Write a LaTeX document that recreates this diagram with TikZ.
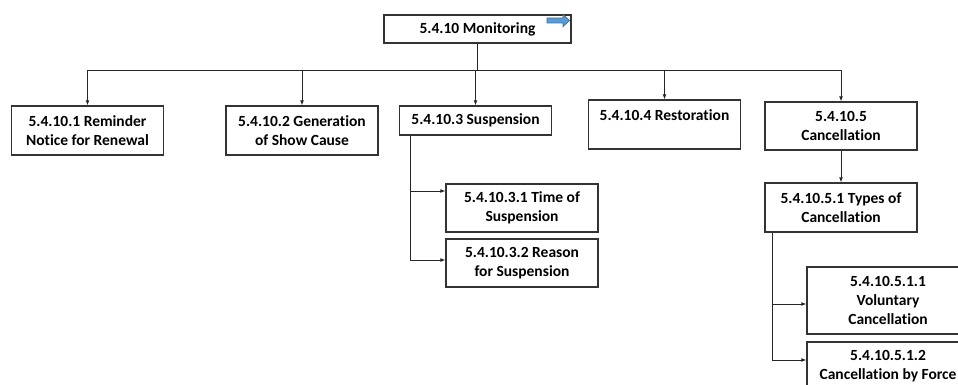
\documentclass[tikz,border=0pt]{standalone}
\usepackage{fontspec}
\setmainfont[Ligatures=NoCommon]{Carlito}
\usetikzlibrary{arrows.meta}

\definecolor{flagfill}{HTML}{5B9BD5}
\definecolor{flagline}{HTML}{41719C}

\tikzset{
	item/.style={draw=black!80, line width=1.3pt, fill=white, align=center, inner sep=0pt,
		minimum width=152pt, minimum height=49pt, font=\bfseries\fontsize{15.5}{19}\selectfont},
	link/.style={draw=black!85, line width=0.9pt, -{Latex[length=5pt,width=4pt]}},
	bar/.style={draw=black!85, line width=0.9pt},
	flag/.style={fill=flagfill, draw=flagline, line width=0.8pt},
}

\begin{document}
\begin{tikzpicture}[x=1pt,y=-1pt]
	\useasboundingbox (0,0) rectangle (958,385);
	\clip (0,0) rectangle (958,385);

	% Top level
	\node[item, minimum width=187pt, minimum height=28pt] (mon) at (477.5,29) {5.4.10 Monitoring};
	\draw[flag] (547,18) -- (563,18) -- (563,14.5) -- (569.5,20.5) -- (563,26.5) -- (563,23) -- (547,23) -- cycle;

	% Second level
	\node[item] (rem) at (87.5,130.5) {5.4.10.1 Reminder\\Notice for Renewal};
	\node[item] (gen) at (302,130.5) {5.4.10.2 Generation\\of Show Cause};
	\node[item, minimum height=29pt] (sus) at (475.5,120.5) {5.4.10.3 Suspension};
	\node[item] (res) at (664.5,124.5) {5.4.10.4 Restoration\\~};
	\node[item, minimum height=48pt] (can) at (841,126) {5.4.10.5\\Cancellation};

	% Suspension
	\node[item, minimum height=48pt] (sustime) at (522,208) {5.4.10.3.1 Time of\\Suspension};
	\node[item, minimum height=48pt] (susreason) at (522,263) {5.4.10.3.2 Reason\\for Suspension};

	% Cancellation
	\node[item] (cantypes) at (841,207.5) {5.4.10.5.1 Types of\\Cancellation};
	\node[item, minimum width=162pt, minimum height=67pt] (canvol) at (888,300.5) {5.4.10.5.1.1\\Voluntary\\Cancellation};
	\node[item, minimum width=162pt, minimum height=48pt] (canforce) at (888,366) {5.4.10.5.1.2\\Cancellation by Force};

	% Connectors
	\draw[bar] (mon.south) -- ++(0,27) coordinate (split);
	\foreach \n in {rem,gen,sus,res,can}
		\draw[link] (split) -| (\n.north);

	\coordinate (sustrunk) at ([xshift=12pt]sus.south west);
	\draw[link] (sustrunk) |- ([yshift=17pt]sustime.west);
	\draw[link] (sustrunk) |- ([yshift=3pt]susreason.west);

	\draw[link] (can.south) -- (cantypes.north);
	\coordinate (cantrunk) at ([xshift=8pt]cantypes.south west);
	\draw[link] (cantrunk) |- ([yshift=-3.5pt]canvol.west);
	\draw[link] (cantrunk) |- ([yshift=6pt]canforce.west);
\end{tikzpicture}
\end{document}
